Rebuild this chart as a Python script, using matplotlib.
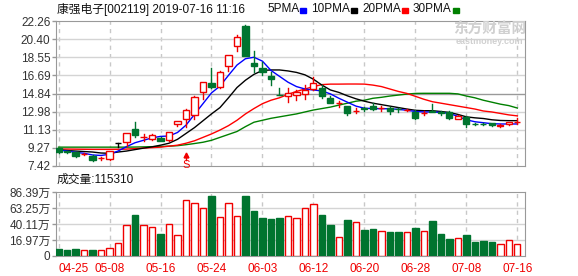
import matplotlib
matplotlib.use('Agg')
import matplotlib.pyplot as plt
from matplotlib.patches import Rectangle

plt.rcParams['font.family'] = ['Liberation Sans', 'Noto Sans CJK SC']

dates = ['04-25', '04-26', '04-29', '04-30', '05-06', '05-07', '05-08', '05-09', '05-10',
         '05-13', '05-14', '05-15', '05-16', '05-17', '05-20', '05-21', '05-22', '05-23',
         '05-24', '05-27', '05-28', '05-29', '05-30', '05-31', '06-03', '06-04', '06-05',
         '06-06', '06-10', '06-11', '06-12', '06-13', '06-14', '06-17', '06-18', '06-19',
         '06-20', '06-21', '06-24', '06-25', '06-26', '06-27', '06-28', '07-01', '07-02',
         '07-03', '07-04', '07-05', '07-08', '07-09', '07-10', '07-11', '07-12', '07-15',
         '07-16']
opens = [9.23, 8.95, 8.82, 8.64, 8.48, 8.20, 8.10, 9.82, 9.91, 11.25, 10.34, 10.20, 10.32,
         10.08, 11.72, 12.20, 12.64, 15.03, 15.95, 15.47, 17.69, 19.73, 21.70, 18.00, 17.48,
         16.66, 14.70, 14.58, 14.69, 14.79, 15.27, 15.44, 14.35, 13.83, 13.56, 13.07, 13.31,
         13.58, 13.38, 13.38, 13.23, 13.17, 12.98, 12.84, 13.10, 12.92, 12.95, 12.28, 12.45,
         11.73, 11.73, 11.79, 11.56, 11.72, 11.88]
highs = [9.30, 9.00, 8.90, 8.80, 8.55, 8.35, 8.95, 9.82, 10.80, 11.95, 10.66, 10.70, 10.40,
         10.95, 12.05, 13.25, 14.55, 16.00, 17.42, 17.10, 18.80, 20.83, 21.85, 19.19, 18.10,
         17.07, 15.37, 15.37, 15.20, 15.71, 16.50, 15.71, 14.60, 14.10, 13.60, 13.35, 13.45,
         13.90, 13.55, 13.50, 13.40, 13.30, 13.15, 13.00, 13.80, 13.10, 13.00, 12.60, 12.50,
         11.85, 11.85, 11.85, 11.70, 11.95, 12.30]
lows = [8.80, 8.75, 8.37, 8.50, 7.90, 8.05, 8.02, 9.40, 9.50, 10.42, 9.95, 10.05, 9.95,
        10.00, 11.51, 11.44, 12.20, 14.25, 15.40, 15.40, 17.17, 19.22, 18.65, 17.07, 16.73,
        15.71, 14.69, 14.00, 14.15, 14.28, 15.20, 14.40, 13.85, 13.45, 12.64, 12.85, 13.10,
        13.20, 13.05, 12.70, 12.95, 13.00, 12.20, 12.60, 12.90, 12.68, 12.25, 12.20, 11.44,
        11.58, 11.58, 11.50, 11.45, 11.60, 11.75]
closes = [8.90, 8.85, 8.48, 8.65, 8.06, 8.21, 8.92, 9.82, 10.77, 10.60, 10.35, 10.60, 10.00,
          10.93, 12.00, 13.20, 14.51, 15.98, 15.54, 17.01, 18.78, 20.59, 18.70, 17.66, 17.04,
          16.29, 14.69, 14.89, 15.03, 15.20, 15.88, 14.58, 13.90, 13.84, 12.81, 13.08, 13.30,
          13.25, 13.39, 13.05, 13.22, 13.18, 12.35, 12.85, 12.95, 12.88, 12.30, 12.52, 11.75,
          11.71, 11.71, 11.57, 11.58, 11.93, 11.90]
vols = [3.95, 2.51, 3.95, 2.07, 2.51, 2.07, 4.96, 12.2, 38.2, 53.1, 38.2, 35.3, 25.6, 40.1,
        23.8, 74.4, 70.0, 62.8, 80.6, 49.8, 70.0, 51.2, 80.6, 58.9, 48.8, 47.3, 48.8, 51.2,
        48.3, 62.8, 69.0, 53.5, 38.7, 20.9, 45.9, 42.6, 31.4, 32.9, 29.5, 28.5, 28.5, 28.5,
        34.3, 29.5, 44.4, 25.6, 18.4, 19.4, 24.2, 14.1, 15.5, 14.1, 10.7, 16.5, 11.53]
ma5 = [9.06, 8.95, 8.82, 8.72, 8.55, 8.50, 8.62, 8.95, 9.40, 9.80, 10.05, 10.30, 10.45,
       10.49, 10.85, 11.60, 12.70, 13.80, 14.90, 15.60, 16.70, 17.75, 18.40, 18.55, 18.15,
       17.20, 16.60, 16.00, 15.55, 15.30, 15.20, 15.10, 14.80, 14.35, 13.95, 13.55, 13.33,
       13.30, 13.28, 13.28, 13.22, 13.12, 13.00, 12.95, 12.95, 12.90, 12.80, 12.50, 12.15,
       11.95, 11.85, 11.75, 11.72, 11.72, 11.72]
ma10 = [9.06, 9.00, 8.95, 8.90, 8.85, 8.75, 8.72, 8.85, 8.95, 9.10, 9.25, 9.38, 9.55, 9.75,
        10.15, 10.75, 11.35, 12.05, 12.75, 13.40, 14.40, 15.45, 16.20, 16.80, 17.20, 17.25,
        17.25, 17.15, 17.00, 16.75, 16.30, 15.70, 15.20, 14.95, 14.60, 14.30, 14.05, 13.85,
        13.70, 13.55, 13.40, 13.25, 13.12, 13.08, 13.08, 13.00, 12.90, 12.70, 12.45, 12.35,
        12.28, 12.15, 12.08, 12.06, 12.06]
ma20 = [9.15, 9.15, 9.14, 9.13, 9.12, 9.12, 9.12, 9.13, 9.15, 9.20, 9.25, 9.30, 9.35, 9.45,
        9.55, 9.75, 10.00, 10.35, 10.70, 11.10, 11.55, 12.10, 12.75, 13.30, 13.80, 14.15,
        14.40, 14.75, 15.05, 15.30, 15.55, 15.75, 15.80, 15.80, 15.81, 15.81, 15.80, 15.70,
        15.55, 15.30, 15.05, 14.85, 14.55, 14.25, 14.00, 13.85, 13.70, 13.55, 13.40, 13.25,
        13.05, 12.95, 12.80, 12.65, 12.55]
ma30 = [9.35, 9.35, 9.35, 9.35, 9.35, 9.35, 9.35, 9.35, 9.35, 9.36, 9.38, 9.40, 9.42, 9.45,
        9.50, 9.60, 9.72, 9.85, 10.05, 10.35, 10.65, 10.95, 11.45, 11.90, 12.10, 12.30, 12.45,
        12.60, 12.75, 12.95, 13.15, 13.30, 13.45, 13.65, 13.85, 14.05, 14.15, 14.35, 14.45,
        14.58, 14.68, 14.78, 14.85, 14.86, 14.86, 14.86, 14.86, 14.80, 14.58, 14.40, 14.15,
        13.95, 13.75, 13.60, 13.35]

price_ticks = [7.42, 9.27, 11.13, 12.98, 14.84, 16.69, 18.55, 20.40, 22.26]
vol_ticks = [-6.17, 16.97, 40.11, 63.25, 86.39]
vol_labels = ['0', '16.97万', '40.11万', '63.25万', '86.39万']
date_ticks = ['04-25', '05-08', '05-16', '05-24', '06-03', '06-12', '06-20', '06-28',
              '07-08', '07-16']
ma_names = ['5PMA', '10PMA', '20PMA', '30PMA']
signal_day = '05-21'

RED = '#f00000'
GREEN = '#00742f'
W, H = 578, 276

fig = plt.figure(figsize=(W / 100, H / 100), dpi=100)
ax = fig.add_axes([56 / W, 1 - 166 / H, 469 / W, 145 / H])
axv = fig.add_axes([56 / W, 1 - 256 / H, 469 / W, 64 / H])

xt = [dates.index(d) for d in date_ticks]

for a in (ax, axv):
    a.set_xlim(-0.3, 54.9)
    for s in a.spines.values():
        s.set_color('#999999')
    a.tick_params(axis='y', length=3, width=1, color='#999999', pad=1,
                  labelsize=8.5, labelcolor='#333333')
    for x in xt:
        a.axvline(x, color='#c8c8c8', lw=1, ls=(0, (3, 3)), zorder=0)

# price panel
ax.set_ylim(price_ticks[0], price_ticks[-1])
ax.set_yticks(price_ticks)
ax.set_yticklabels(['%.2f' % t for t in price_ticks])
for t in price_ticks[1:-1]:
    ax.axhline(t, color='#999999' if t == 14.84 else '#d4d4d4', lw=1, zorder=0)
ax.set_xticks([])

for i in range(len(dates)):
    o, h, l, c = opens[i], highs[i], lows[i], closes[i]
    if c > o:
        col, face = RED, 'white'
    elif c < o:
        col, face = GREEN, GREEN
    else:
        col, face = 'black', 'black'
    top, bot = max(o, c), min(o, c)
    ax.plot([i, i], [top, h], color=col, lw=1, zorder=3)
    ax.plot([i, i], [l, bot], color=col, lw=1, zorder=3)
    ax.add_patch(Rectangle((i - 0.36, bot), 0.72, max(top - bot, 0.005),
                           facecolor=face, edgecolor=col, lw=1, zorder=4))

xs = list(range(len(dates)))
ax.plot(xs, ma30, color='#008000', lw=1, zorder=2)
ax.plot(xs, ma20, color='#ff0000', lw=1, zorder=2)
ax.plot(xs, ma10, color='black', lw=1, zorder=2)
ax.plot(xs, ma5, color='#0000ff', lw=1, zorder=2)

# buy signal mark: small up arrow with "S" under it
sx = dates.index(signal_day)
ax.plot([sx, sx], [8.0, 8.55], color=RED, lw=1, clip_on=False, zorder=5)
ax.plot(sx, 8.55, marker='^', ms=3.5, color=RED, clip_on=False, zorder=5)
ax.text(sx, 7.55, 'S', color=RED, fontsize=8, ha='center', va='center', clip_on=False)

# volume panel
vmin = vol_ticks[0]
axv.set_ylim(vmin, vol_ticks[-1])
axv.set_yticks(vol_ticks)
axv.set_yticklabels(vol_labels)
for t in vol_ticks[1:-1]:
    axv.axhline(t, color='#d4d4d4', lw=1, zorder=0)
for i, v in enumerate(vols):
    up = closes[i] >= opens[i]
    axv.bar(i, v - vmin, bottom=vmin, width=0.74,
            facecolor='white' if up else GREEN, edgecolor=RED if up else GREEN,
            lw=1, zorder=3)
axv.set_xticks(xt)
axv.set_xticklabels(date_ticks)
axv.tick_params(axis='x', length=0, pad=5, labelsize=8.5, labelcolor=RED)
axv.get_xticklabels()[0].set_horizontalalignment('left')

# header texts
fig.text(57 / W, 1 - 9 / H, '康强电子[002119] 2019-07-16 11:16', fontsize=8.5,
         va='center', color='#111111')
fig.text(57 / W, 1 - 180 / H, '成交量:115310', fontsize=8.5, va='center', color='#111111')

fig.canvas.draw()
r = fig.canvas.get_renderer()
xpos = 267
for name, col in zip(ma_names, ['#0000ff', 'black', '#ff0000', '#008000']):
    t = fig.text(xpos / W, 1 - 9 / H, name, fontsize=8.5, va='center', color='#111111')
    wpx = t.get_window_extent(r).width
    fig.add_artist(Rectangle(((xpos + wpx + 1) / W, 1 - 13 / H), 6 / W, 5 / H,
                             transform=fig.transFigure, color=col))
    xpos += wpx + 12

# watermark
fig.text(453 / W, 1 - 30 / H, '东方财富网', fontsize=10.5, fontweight='bold',
         color='#d0d0d0', va='center', zorder=0)
fig.text(489 / W, 1 - 42 / H, 'eastmoney.com', fontsize=6.5, fontweight='bold',
         color='#d0d0d0', va='center', ha='center', zorder=0)

fig.savefig('out.png', dpi=100)
